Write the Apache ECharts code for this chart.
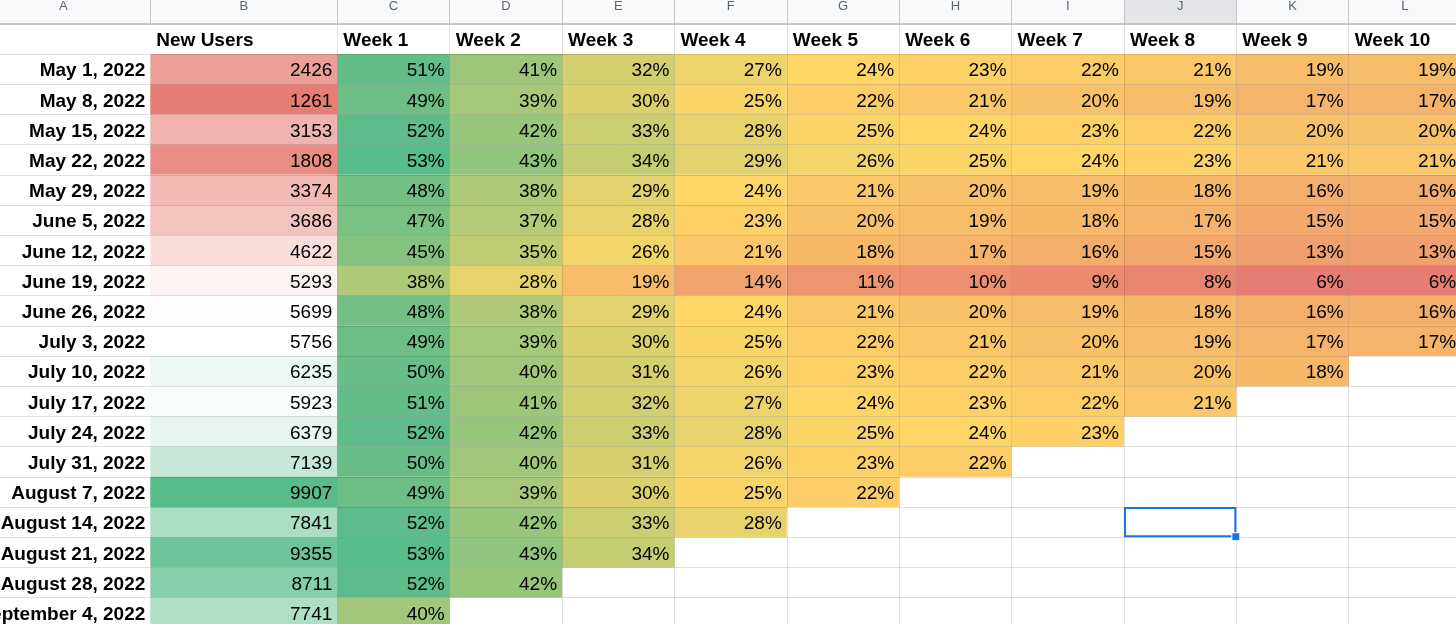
<!DOCTYPE html>
<html>
<head>
<meta charset="utf-8">
<script src="https://cdn.jsdelivr.net/npm/echarts@6/dist/echarts.min.js"></script>
<style>
html,body{margin:0;padding:0;background:#fff;}
#chart{width:1456px;height:624px;}
</style>
</head>
<body>
<div id="chart"></div>
<script>
// ---------------- data ----------------
const columnLetters = ['A','B','C','D','E','F','G','H','I','J','K','L'];
const newUsersTitle = 'New Users';
const weekLabels = ['Week 1','Week 2','Week 3','Week 4','Week 5','Week 6','Week 7','Week 8','Week 9','Week 10'];
const cohortDates = [
  'May 1, 2022','May 8, 2022','May 15, 2022','May 22, 2022','May 29, 2022',
  'June 5, 2022','June 12, 2022','June 19, 2022','June 26, 2022','July 3, 2022',
  'July 10, 2022','July 17, 2022','July 24, 2022','July 31, 2022','August 7, 2022',
  'August 14, 2022','August 21, 2022','August 28, 2022','September 4, 2022'
];
const newUsers = [2426,1261,3153,1808,3374,3686,4622,5293,5699,5756,6235,5923,6379,7139,9907,7841,9355,8711,7741];
const retention = [
  [51,41,32,27,24,23,22,21,19,19],
  [49,39,30,25,22,21,20,19,17,17],
  [52,42,33,28,25,24,23,22,20,20],
  [53,43,34,29,26,25,24,23,21,21],
  [48,38,29,24,21,20,19,18,16,16],
  [47,37,28,23,20,19,18,17,15,15],
  [45,35,26,21,18,17,16,15,13,13],
  [38,28,19,14,11,10,9,8,6,6],
  [48,38,29,24,21,20,19,18,16,16],
  [49,39,30,25,22,21,20,19,17,17],
  [50,40,31,26,23,22,21,20,18],
  [51,41,32,27,24,23,22,21],
  [52,42,33,28,25,24,23],
  [50,40,31,26,23,22],
  [49,39,30,25,22],
  [52,42,33,28],
  [53,43,34],
  [52,42],
  [40]
];
const selectedCell = { date: 'August 14, 2022', week: 'Week 8' };

// ---------------- colour scales (Sheets style: min / percentile 50 / max) ----------------
const RED = [230,124,115], YEL = [255,214,102], GRN = [87,187,138], WHT = [255,255,255];
function median(a){ const s=[...a].sort((x,y)=>x-y); const n=s.length; return n%2 ? s[(n-1)/2] : (s[n/2-1]+s[n/2])/2; }
function lerp(a,b,t){ t=Math.max(0,Math.min(1,t)); return a.map((v,i)=>Math.round(v+(b[i]-v)*t)); }
function scale3(v,min,mid,max,c0,c1,c2){
  const c = v<=mid ? lerp(c0,c1,(v-min)/(mid-min)) : lerp(c1,c2,(v-mid)/(max-mid));
  return 'rgb(' + c.join(',') + ')';
}
const flatRet = retention.flat();
const rMin = Math.min(...flatRet), rMax = Math.max(...flatRet), rMid = median(flatRet);
const uMin = Math.min(...newUsers), uMax = Math.max(...newUsers), uMid = median(newUsers);
const retColor = v => scale3(v, rMin, rMid, rMax, RED, YEL, GRN);
const userColor = v => scale3(v, uMin, uMid, uMax, RED, WHT, GRN);

// ---------------- layout ----------------
const FONT = '"Liberation Sans", Arial, sans-serif';
const ROW_H = 30.2, TOP = 23.8, NROWS = cohortDates.length + 1;
const rowCats = [''].concat(cohortDates);
const GRID_COLOR = 'rgba(0,0,0,0.12)';
const HEAD_LINE = '#c4c7c5';
const grids = [
  { left: -23.7, width: 174, top: TOP, height: ROW_H*NROWS },
  { left: 150.3, width: 187, top: TOP, height: ROW_H*NROWS },
  { left: 337.3, width: 1123.8, top: TOP, height: ROW_H*NROWS }
].map(g => Object.assign({ containLabel:false, outerBoundsMode:'none', show:false }, g));

function xAxisFor(gi, letters){
  return {
    type:'category', gridIndex:gi, position:'top', data:letters, z:3,
    axisLine:{ show:true, lineStyle:{ color:HEAD_LINE, width:2 } },
    axisTick:{ show:true, interval:0, length:TOP, lineStyle:{ color:HEAD_LINE, width:1 } },
    axisLabel:{ show:true, interval:0, margin:17.5, verticalAlign:'middle', color:'#5f6368', fontSize:13, fontFamily:FONT },
    splitLine:{ show: gi>0, interval:0, showMinLine:false, lineStyle:{ color:GRID_COLOR, width:1 } }
  };
}
function yAxisFor(gi){
  return {
    type:'category', gridIndex:gi, inverse:true, data:rowCats, z:3,
    axisLine:{ show:false }, axisTick:{ show:false }, axisLabel:{ show:false },
    splitLine:{ show:true, interval:0, showMinLine:false, lineStyle:{ color:GRID_COLOR, width:1 } }
  };
}

// header-letter band background (selected column darker)
function headerBg(){
  return function(params, api){
    const c = api.coord([api.value(0), 0]);
    const s = api.size([1,1]);
    const sel = api.value(2) === 1;
    return { type:'rect', shape:{ x:c[0]-s[0]/2, y:0, width:s[0], height:c[1]-s[1]/2 },
      style:{ fill: sel ? '#e3e5e8' : '#f8f9fa' } };
  };
}
function valueCells(colorFn, fmt){
  return function(params, api){
    const c = api.coord([api.value(0), api.value(1)]);
    const s = api.size([1,1]);
    const v = api.value(2);
    const x0 = c[0]-s[0]/2, y0 = c[1]-s[1]/2;
    return { type:'group', children:[
      { type:'rect', shape:{ x:x0, y:y0, width:s[0], height:s[1] }, style:{ fill: colorFn(v) } },
      { type:'text', style:{ x:x0+s[0]-5, y:c[1]+2, text: fmt(v), align:'right', verticalAlign:'middle', font:'19px ' + FONT, fill:'#000' } }
    ]};
  };
}
function headerText(names){
  return function(params, api){
    const c = api.coord([api.value(0), 0]);
    const s = api.size([1,1]);
    return { type:'text', style:{ x:c[0]-s[0]/2+6, y:c[1]+2, text: names[api.value(0)], align:'left', verticalAlign:'middle', font:'bold 19px ' + FONT, fill:'#000' } };
  };
}
function rowLabel(params, api){
  const r = api.value(1);
  const c = api.coord([0, r]);
  const s = api.size([1,1]);
  return { type:'text', style:{ x:c[0]+s[0]/2-5, y:c[1]+2, text: rowCats[r], align:'right', verticalAlign:'middle', font:'bold 19px ' + FONT, fill:'#000' } };
}

const selWeek = weekLabels.indexOf(selectedCell.week);
const selRow = rowCats.indexOf(selectedCell.date);

const userData = newUsers.map((v,i)=>[0, i+1, v]);
const labelData = cohortDates.map((d,i)=>[0, i+1]);
const retData = [];
retention.forEach((row,r)=>row.forEach((v,w)=>retData.push([w, r+1, v])));

const series = [
  { type:'custom', xAxisIndex:0, yAxisIndex:0, z:1, silent:true, renderItem: headerBg(), data:[[0,0,0]], encode:{x:0,y:1} },
  { type:'custom', xAxisIndex:1, yAxisIndex:1, z:1, silent:true, renderItem: headerBg(), data:[[0,0,0]], encode:{x:0,y:1} },
  { type:'custom', xAxisIndex:2, yAxisIndex:2, z:1, silent:true, renderItem: headerBg(),
    data: weekLabels.map((w,i)=>[i,0, i===selWeek?1:0]), encode:{x:0,y:1} },
  { type:'custom', xAxisIndex:0, yAxisIndex:0, z:4, silent:true, renderItem: rowLabel, data:labelData, encode:{x:0,y:1} },
  { type:'custom', xAxisIndex:1, yAxisIndex:1, z:2, silent:true, renderItem: valueCells(userColor, v=>String(v)), data:userData, encode:{x:0,y:1} },
  { type:'custom', xAxisIndex:2, yAxisIndex:2, z:2, silent:true, renderItem: valueCells(retColor, v=>v+'%'), data:retData, encode:{x:0,y:1} },
  { type:'custom', xAxisIndex:1, yAxisIndex:1, z:4, silent:true, renderItem: headerText([newUsersTitle]), data:[[0,0]], encode:{x:0,y:1} },
  { type:'custom', xAxisIndex:2, yAxisIndex:2, z:4, silent:true, renderItem: headerText(weekLabels), data: weekLabels.map((w,i)=>[i,0]), encode:{x:0,y:1} },
  { type:'custom', xAxisIndex:2, yAxisIndex:2, z:5, silent:true,
    renderItem: function(params, api){
      const c = api.coord([api.value(0), api.value(1)]);
      const s = api.size([1,1]);
      const x0 = c[0]-s[0]/2, y0 = c[1]-s[1]/2;
      return { type:'group', children:[
        { type:'rect', shape:{ x:x0+1, y:y0+1, width:s[0]-2, height:s[1]-2 }, style:{ fill:'none', stroke:'#1a73e8', lineWidth:2 } },
        { type:'rect', shape:{ x:x0+s[0]-4.5, y:y0+s[1]-4.5, width:8, height:8 }, style:{ fill:'#1a73e8', stroke:'#fff', lineWidth:1 } }
      ]};
    },
    data:[[selWeek, selRow]], encode:{x:0,y:1} }
];

const chart = echarts.init(document.getElementById('chart'), null, { renderer:'canvas' });
chart.setOption({
  animation:false,
  backgroundColor:'#fff',
  grid: grids,
  xAxis: [
    xAxisFor(0, columnLetters.slice(0,1)),
    xAxisFor(1, columnLetters.slice(1,2)),
    xAxisFor(2, columnLetters.slice(2))
  ],
  yAxis: [ yAxisFor(0), yAxisFor(1), yAxisFor(2) ],
  series: series
});
</script>
</body>
</html>
